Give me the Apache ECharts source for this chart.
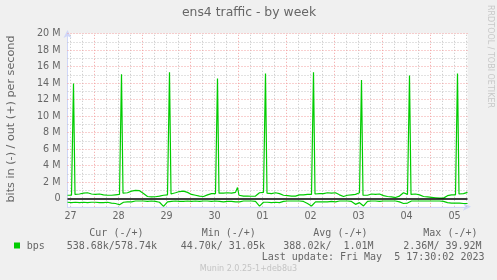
<!DOCTYPE html>
<html><head><meta charset="utf-8">
<script src="https://cdn.jsdelivr.net/npm/echarts@6/dist/echarts.min.js"></script>
<style>html,body{margin:0;padding:0;background:#f0f0f0}#c{width:497px;height:280px}</style>
</head><body><div id="c"></div>
<script>
// x values are hours after midnight of day "27"
const dayLabels = ['27','28','29','30','01','02','03','04','05'];
const startHour = -1.5;
const stepHours = 2;
// out (+) baseline in M bits/s, one value every 2 h
const outBase = [
  0.4, 0.4, 0.5, 0.55, 0.65, 0.7, 0.55, 0.5, 0.55, 0.45, 0.4, 0.4,
  0.45, 0.5, 0.65, 0.7, 0.9, 1.0, 0.95, 0.6, 0.25, 0.2, 0.22, 0.3,
  0.4, 0.45, 0.55, 0.7, 0.85, 0.9, 0.75, 0.5, 0.4, 0.3, 0.25, 0.45,
  0.6, 0.6, 0.65, 0.65, 0.7, 0.65, 0.75, 0.4, 0.3, 0.3, 0.28, 0.3,
  0.7, 0.75, 0.65, 0.6, 0.7, 0.6, 0.4, 0.35, 0.3, 0.3, 0.45, 0.45,
  0.5, 0.5, 0.55, 0.6, 0.6, 0.7, 0.65, 0.7, 0.45, 0.25, 0.4, 0.45,
  0.5, 0.7, 0.4, 0.4, 0.55, 0.5, 0.55, 0.35, 0.25, 0.2, 0.12, 0.3,
  0.7, 0.5, 0.5, 0.55, 0.45, 0.25, 0.2, 0.15, 0.1, 0.05, 0.05, 0.35,
  0.45, 0.45, 0.55, 0.6, 0.75
];
// in (-) baseline in M bits/s (drawn negative), one value every 2 h
const inBase = [
  -0.45, -0.5, -0.45, -0.5, -0.45, -0.5, -0.45, -0.45, -0.5, -0.5, -0.45, -0.55,
  -0.6, -0.75, -0.45, -0.4, -0.4, -0.3, -0.3, -0.3, -0.35, -0.3, -0.35, -0.45,
  -0.95, -0.4, -0.35, -0.3, -0.35, -0.35, -0.3, -0.35, -0.3, -0.35, -0.3, -0.3,
  -0.35, -0.3, -0.35, -0.4, -0.35, -0.35, -0.4, -0.4, -0.3, -0.3, -0.3, -0.35,
  -0.92, -0.45, -0.45, -0.5, -0.45, -0.5, -0.35, -0.3, -0.3, -0.3, -0.3, -0.35,
  -0.6, -0.9, -0.4, -0.4, -0.4, -0.4, -0.35, -0.4, -0.3, -0.3, -0.3, -0.35,
  -0.7, -0.5, -0.9, -0.35, -0.3, -0.3, -0.35, -0.3, -0.3, -0.3, -0.3, -0.4,
  -0.6, -0.55, -0.3, -0.3, -0.3, -0.3, -0.3, -0.3, -0.3, -0.3, -0.35, -0.5,
  -0.55, -0.55, -0.55, -0.6, -0.6
];
// short out (+) peaks
const spikeHours = [1.5, 25.5, 49.5, 73.5, 83.5, 97.5, 121.5, 145.5, 169.5, 193.5];
const spikePeaks = [13.95, 15.05, 15.3, 14.55, 1.34, 15.15, 15.3, 14.35, 14.9, 15.15];

const legendHeads = ['Cur (-/+)', 'Min (-/+)', 'Avg (-/+)', 'Max (-/+)'];
const legendVals = ['538.68k/578.74k', '44.70k/ 31.05k', '388.02k/  1.01M', '2.36M/ 39.92M'];
const lastUpdate = 'Last update: Fri May  5 17:30:02 2023';

function baseData(arr) {
  return arr.map((v, i) => [startHour + i * stepHours, v]);
}
function outData() {
  const pts = baseData(outBase);
  spikeHours.forEach((h, k) => {
    const i = Math.floor((h - startHour) / stepHours);
    pts.push([h - 0.25, outBase[i]], [h, spikePeaks[k]], [h + 0.75, outBase[i + 1]]);
  });
  pts.sort((a, b) => a[0] - b[0]);
  return pts;
}

const xMin = -1.5, xMax = 198.5;
const grayX = [], redX = [], labelX = [];
for (let h = 0; h <= xMax; h += 6) { if (h % 24 === 12) redX.push(h); else grayX.push(h); }
dayLabels.forEach((d, i) => labelX.push(i * 24));
const grayY = [], redY = [];
for (let v = 1; v < 20; v += 2) grayY.push(v);
for (let v = 2; v <= 20; v += 2) redY.push(v);

const FONT = 'DejaVu Sans';
const MONO = 'DejaVu Sans Mono';
const GRID = { left: 67.5, top: 33.5, width: 400, height: 173.3 };
const gray = '#c4c4c4', red = '#f2a0a0', axisCol = '#cfd6f8', txt = '#666666';

function gridSeries(xs, ys, color) {
  return {
    type: 'line', data: [[xMin, -1]], symbol: 'none', showSymbol: false, silent: true,
    lineStyle: { opacity: 0 }, z: 1,
    markLine: {
      silent: true, z: 1, symbol: ['none', 'none'], label: { show: false },
      lineStyle: { color: color, width: 1, type: [1, 2] },
      emphasis: { disabled: true },
      data: xs.map(h => ({ xAxis: h })).concat(ys.map(v => ({ yAxis: v })))
    }
  };
}

const chart = echarts.init(document.getElementById('c'), null, { renderer: 'canvas' });
const legendX = [89.3, 201.7, 313.3, 423.3];
const valX = [66.7, 180.7, 283.3, 403.3];
const graphics = [
  { type: 'text', x: 249, y: 13, style: { text: 'ens4 traffic - by week', font: '12.4px "' + FONT + '"', fill: txt, textAlign: 'center', textVerticalAlign: 'middle' } },
  { type: 'text', x: 11, y: 119, rotation: Math.PI / 2, style: { text: 'bits in (-) / out (+) per second', font: '11.2px "' + FONT + '"', fill: txt, textAlign: 'center', textVerticalAlign: 'middle' } },
  { type: 'text', x: 490.5, y: 56.5, rotation: -Math.PI / 2, style: { text: 'RRDTOOL / TOBI OETIKER', font: '8px "' + FONT + '"', fill: '#c8c8c8', textAlign: 'center', textVerticalAlign: 'middle' } },
  { type: 'rect', shape: { x: 14, y: 242.5, width: 6, height: 6 }, style: { fill: '#00cc00' } },
  { type: 'text', x: 26.7, y: 246, style: { text: 'bps', font: '10px "' + MONO + '"', fill: txt, textVerticalAlign: 'middle' } },
  { type: 'text', x: 261.7, y: 257.3, style: { text: lastUpdate, font: '10px "' + MONO + '"', fill: txt, textVerticalAlign: 'middle' } },
  { type: 'text', x: 248.5, y: 268.5, style: { text: 'Munin 2.0.25-1+deb8u3', font: '8px "' + FONT + '"', fill: '#c4c4c4', textAlign: 'center', textVerticalAlign: 'middle' } }
];
legendHeads.forEach((t, i) => graphics.push({ type: 'text', x: legendX[i], y: 233.3, style: { text: t, font: '10px "' + MONO + '"', fill: txt, textVerticalAlign: 'middle' } }));
legendVals.forEach((t, i) => graphics.push({ type: 'text', x: valX[i], y: 246, style: { text: t, font: '10px "' + MONO + '"', fill: txt, textVerticalAlign: 'middle' } }));

chart.setOption({
  animation: false,
  backgroundColor: '#f0f0f0',
  grid: Object.assign({ backgroundColor: '#ffffff', show: true, borderWidth: 0 }, GRID),
  xAxis: {
    type: 'value', min: xMin, max: xMax, position: 'bottom',
    axisLine: { show: true, onZero: false, lineStyle: { color: axisCol, width: 1 }, symbol: ['none', 'arrow'], symbolSize: [6, 8], symbolOffset: [0, 3.5] },
    axisTick: { show: false },
    axisLabel: { customValues: labelX, formatter: v => dayLabels[Math.round(v / 24)], color: txt, fontFamily: FONT, fontSize: 9.6, margin: 5 },
    splitLine: { show: false }
  },
  yAxis: {
    type: 'value', min: -1, max: 20, position: 'left',
    axisLine: { show: true, onZero: false, lineStyle: { color: axisCol, width: 1 }, symbol: ['none', 'arrow'], symbolSize: [6, 8], symbolOffset: [0, 3.5] },
    axisTick: { show: false },
    axisLabel: { customValues: [0].concat(redY), formatter: v => v === 0 ? '0' : v + ' M', color: txt, fontFamily: FONT, fontSize: 9.6, margin: 7 },
    splitLine: { show: false }
  },
  series: [
    gridSeries(grayX, grayY, gray),
    gridSeries(redX, redY, red),
    { type: 'line', name: 'in', data: baseData(inBase), showSymbol: false, symbol: 'none',
      lineStyle: { color: '#00cc00', width: 1.2 }, z: 3 },
    { type: 'line', name: 'out', data: outData(), showSymbol: false, symbol: 'none',
      lineStyle: { color: '#00cc00', width: 1.2 }, z: 3,
      markLine: { silent: true, z: 5, symbol: ['none', 'none'], label: { show: false }, emphasis: { disabled: true },
        lineStyle: { color: '#000000', width: 1.5, type: 'solid' }, data: [{ yAxis: 0 }] } }
  ],
  graphic: graphics
});
</script>
</body></html>
